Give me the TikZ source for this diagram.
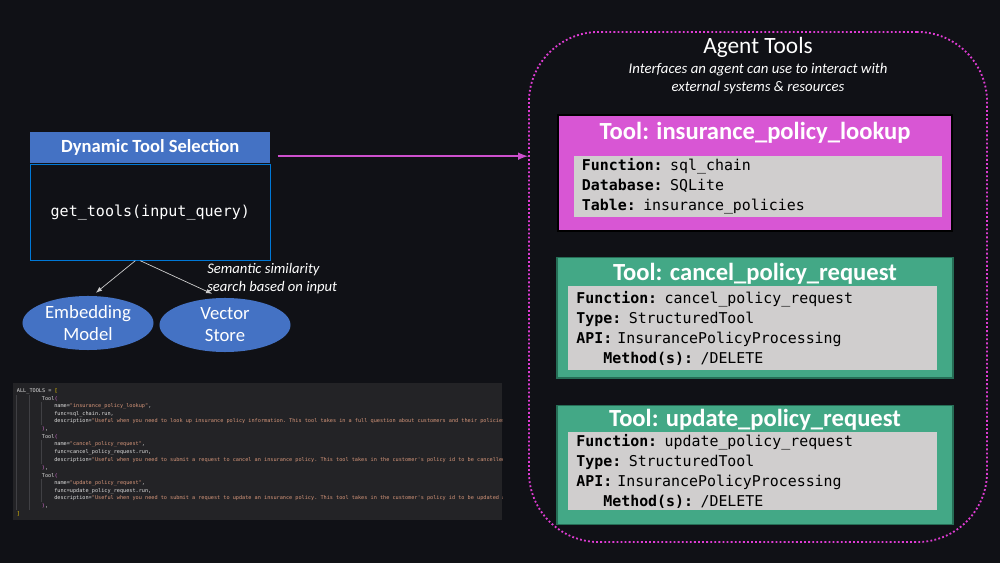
\documentclass[tikz,border=0pt]{standalone}
\usepackage{fontspec}
\setmainfont{Carlito}
\setmonofont{DejaVu Sans Mono}
\usetikzlibrary{shapes, positioning, calc}
\definecolor{bgdark}{RGB}{16,17,22}
\definecolor{hdrblue}{RGB}{68,114,196}
\definecolor{edgeblue}{RGB}{0,120,215}
\definecolor{toolpink}{RGB}{216,86,212}
\definecolor{toolgreen}{RGB}{67,168,134}
\definecolor{greenedge}{RGB}{38,110,86}
\definecolor{infogray}{RGB}{208,206,206}
\definecolor{linkpink}{RGB}{205,80,205}
\definecolor{dotpink}{RGB}{222,60,210}
\definecolor{arrowgray}{RGB}{205,205,205}
\definecolor{codebg}{RGB}{35,35,38}
\definecolor{codefg}{RGB}{222,222,222}
\definecolor{codestr}{RGB}{214,150,122}
\definecolor{codebrk}{RGB}{255,215,0}
\definecolor{codepar}{RGB}{218,112,214}
\definecolor{codeguide}{RGB}{64,64,68}
\newcommand{\cstr}[1]{\textcolor{codestr}{#1}}
\newcommand{\cbrk}[1]{\textcolor{codebrk}{#1}}
\newcommand{\cpar}[1]{\textcolor{codepar}{#1}}

\begin{document}
\begin{tikzpicture}[x=0.025cm, y=-0.025cm,
    tool/.style={rectangle, 
      minimum width=9.9cm, 
      minimum height=3cm, 
      inner sep=0pt},
    tooltitle/.style={text=white, 
      inner sep=0pt, 
      font=\fontsize{17.5}{20}\selectfont\bfseries},
    info/.style={rectangle, 
      fill=infogray, 
      text=black, 
      align=left, 
      text width=8.8cm, 
      inner xsep=0.2cm, 
      inner ysep=0pt, 
      font=\ttfamily\fontsize{10.6}{14.2}\selectfont},
    model/.style={ellipse, 
      fill=hdrblue, 
      text=white, 
      minimum width=3.275cm, 
      minimum height=1.35cm, 
      inner sep=0pt, 
      align=center, 
      font=\fontsize{13.3}{15.6}\selectfont},
    codeline/.style={anchor=west, 
      inner sep=0pt, 
      text=codefg, 
      font=\ttfamily\fontsize{3.7}{4}\selectfont}]

  \fill[bgdark] (0,0) rectangle (1000,563);
  \useasboundingbox (0,0) rectangle (1000,563);


  % selection box
  \node [rectangle, 
    fill=hdrblue, 
    minimum width=6cm, 
    minimum height=0.775cm, 
    anchor=north west, 
    text=white, 
    font=\fontsize{13.2}{15}\selectfont\bfseries] (dtshead) at (30,132) {Dynamic Tool Selection};

  \node [rectangle, 
    draw=edgeblue, 
    line width=0.8pt, 
    minimum width=6cm, 
    minimum height=2.4cm, 
    below=0pt of dtshead, 
    text=white, 
    font=\ttfamily\fontsize{10.7}{13}\selectfont] (dtsbody) {get\_tools(input\_query)};

  \node [model] (embed) at (88,323) {Embedding\\Model};
  \node [model] (vstore) at (225,325) {Vector\\Store};

  \node [anchor=west, 
    align=left, 
    text=white, 
    inner sep=0pt, 
    font=\fontsize{10.4}{12.8}\selectfont\itshape] (semantic) at (207,279) {Semantic similarity\\search based on input};

  \draw[-latex, arrowgray, line width=0.5pt] ([xshift=-0.375cm]dtsbody.south) 
  -- ([xshift=0.2cm,yshift=0.075cm]embed.north);

  \draw[-latex, arrowgray, line width=0.5pt] ([xshift=-0.25cm]dtsbody.south) 
  -- ([xshift=-0.325cm,yshift=0.1cm]vstore.north);


  % code listing
  \node [rectangle, 
    fill=codebg, 
    minimum width=12.225cm, 
    minimum height=3.425cm, 
    inner sep=0pt, 
    anchor=north west] (codepanel) at (13,383) {};

  \begin{scope}
    \clip (codepanel.south west) rectangle (codepanel.north east);
    \draw[codeguide, line width=0.3pt] (16.7,395) -- (16.7,510);
    \draw[codeguide, line width=0.3pt] (29.2,395) -- (29.2,510);
    \foreach \ya/\yb in {402/425, 440/464, 479/502}
      \draw[codeguide, line width=0.3pt] (41.7,\ya) -- (41.7,\yb);
    \foreach \i/\x/\t in {
      0/16.7/{ALL\_TOOLS = \cbrk{[}},
      1/41.7/{Tool\cpar{(}},
      2/54/{name=\cstr{"insurance\_policy\_lookup"},},
      3/54/{func=sql\_chain.run,},
      4/54/{description=\cstr{"Useful when you need to look up insurance policy information. This tool takes in a full question about customers and their policies}},
      5/41.7/{\cpar{)},},
      6/41.7/{Tool\cpar{(}},
      7/54/{name=\cstr{"cancel\_policy\_request"},},
      8/54/{func=cancel\_policy\_request.run,},
      9/54/{description=\cstr{"Useful when you need to submit a request to cancel an insurance policy. This tool takes in the customer's policy id to be cancelled}},
      10/41.7/{\cpar{)},},
      11/41.7/{Tool\cpar{(}},
      12/54/{name=\cstr{"update\_policy\_request"},},
      13/54/{func=update\_policy\_request.run,},
      14/54/{description=\cstr{"Useful when you need to submit a request to update an insurance policy. This tool takes in the customer's policy id to be updated a}},
      15/41.7/{\cpar{)},},
      16/16.7/{\cbrk{]}}}
      \node [codeline] (code\i) at (\x,{390.7+7.7*\i}) {\t};
  \end{scope}


  % agent tools
  \node [rectangle, 
    draw=dotpink, 
    line width=1.3pt, 
    dash pattern=on 1.3pt off 1.6pt, 
    rounded corners=1.75cm, 
    minimum width=11.45cm, 
    minimum height=12.75cm] (agent) at (758,287) {};

  \node [text=white, 
    inner sep=0pt, 
    font=\fontsize{16.6}{19}\selectfont] (agenttitle) at ([yshift=-0.42cm]agent.north) {Agent Tools};

  \node [below=0.12cm of agenttitle, 
    align=center, 
    text=white, 
    inner sep=0pt, 
    font=\fontsize{10.5}{12.8}\selectfont\itshape] (agentsub) {Interfaces an agent can use to interact with\\external systems \& resources};

  \draw[-latex, linkpink, line width=1.4pt] ([xshift=0.175cm,yshift=-0.21cm]dtshead.east) coordinate (linkstart) 
  -- (linkstart -| agent.west);


  \node [tool, 
    fill=toolpink, 
    draw=black, 
    line width=1.5pt, 
    minimum width=9.85cm, 
    minimum height=2.9cm] (lookup) at (755,173) {};
  \node [tooltitle] (lookuptitle) at ([yshift=-0.46cm]lookup.north) {Tool: insurance\_policy\_lookup};
  \node [info, 
    minimum width=9.2cm, 
    minimum height=1.525cm] (lookupinfo) at (758,186.5) {
    \textbf{Function:} sql\_chain\\
    \textbf{Database:} SQLite\\
    \textbf{Table:} insurance\_policies
  };

  \node [tool, 
    fill=toolgreen, 
    draw=greenedge, 
    line width=1pt, 
    below=0.625cm of lookup] (cancel) {};
  \node [tooltitle] (canceltitle) at ([yshift=-0.42cm]cancel.north) {Tool: cancel\_policy\_request};
  \node [info, 
    minimum width=9.225cm, 
    minimum height=2.1cm] (cancelinfo) at (752.5,328) {
    \textbf{Function:} cancel\_policy\_request\\
    \textbf{Type:} StructuredTool\\
    \textbf{API:} InsurancePolicyProcessing\\
    \phantom{API}\textbf{Method(s):} /DELETE
  };

  \node [tool, 
    fill=toolgreen, 
    draw=greenedge, 
    line width=1pt, 
    minimum height=2.975cm, 
    below=0.65cm of cancel] (update) {};
  \node [tooltitle] (updatetitle) at ([yshift=-0.39cm]update.north) {Tool: update\_policy\_request};
  \node [info, 
    minimum width=9.225cm, 
    minimum height=1.95cm] (updateinfo) at (752.5,471) {
    \textbf{Function:} update\_policy\_request\\
    \textbf{Type:} StructuredTool\\
    \textbf{API:} InsurancePolicyProcessing\\
    \phantom{API}\textbf{Method(s):} /DELETE
  };

\end{tikzpicture}
\end{document}
